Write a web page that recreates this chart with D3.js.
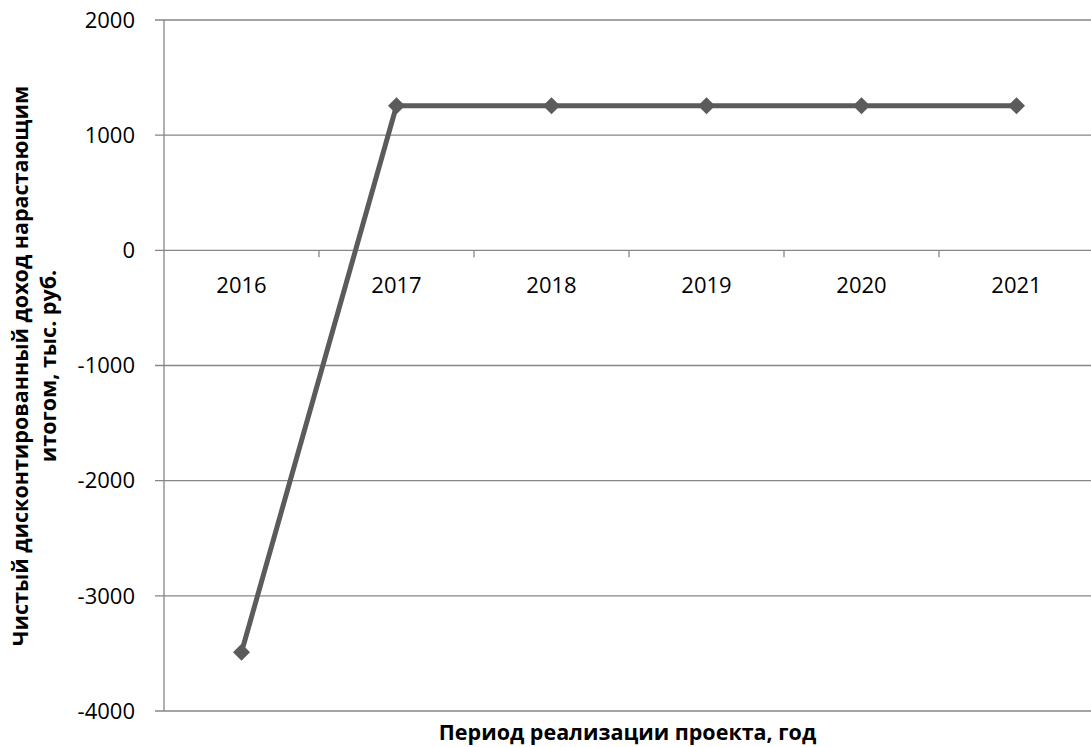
<!DOCTYPE html>
<html>
<head>
<meta charset="utf-8">
<script src="https://cdn.jsdelivr.net/npm/d3@7"></script>
<style>
  body { margin: 0; background: #fff; }
  svg { display: block; font-family: "Open Sans", "Noto Sans", sans-serif; }
</style>
</head>
<body>
<svg id="chart" width="1091" height="747"></svg>
<script>
const years = ["2016", "2017", "2018", "2019", "2020", "2021"];
const npvCumulative = [-3490, 1255, 1255, 1255, 1255, 1255];
const yTicks = [-4000, -3000, -2000, -1000, 0, 1000, 2000];

const yTitleLines = ["Чистый дисконтированный доход нарастающим", "итогом, тыс. руб."];
const xTitle = "Период реализации проекта, год";

const margin = { left: 164, top: 20, right: -3, bottom: 36 };
const W = 1091, H = 747;

const svg = d3.select("#chart");

const x = d3.scaleBand().domain(years).range([margin.left, W - margin.right]);
const y = d3.scaleLinear().domain([-4000, 2000]).range([H - margin.bottom, margin.top]);

const gridColor = "#868686";
const lineColor = "#5b5b5b";

// horizontal gridlines + left ticks
svg.append("g").selectAll("line").data(yTicks).join("line")
    .attr("x1", margin.left - 9).attr("x2", W)
    .attr("y1", d => y(d)).attr("y2", d => y(d))
    .attr("stroke", gridColor).attr("stroke-width", 1.3);

// y axis line
svg.append("line")
    .attr("x1", margin.left).attr("x2", margin.left)
    .attr("y1", y(2000)).attr("y2", y(-4000))
    .attr("stroke", gridColor).attr("stroke-width", 1.3);

// y tick labels
svg.append("g").selectAll("text").data(yTicks).join("text")
    .attr("x", margin.left - 29).attr("y", d => y(d)).attr("dy", "0.35em")
    .attr("text-anchor", "end").attr("font-size", 22).attr("fill", "#000")
    .text(d => d);

// category ticks on zero line
const boundaries = years.map(d => x(d)).concat([x(years[years.length - 1]) + x.bandwidth()]);
svg.append("g").selectAll("line").data(boundaries.slice(1)).join("line")
    .attr("x1", d => d).attr("x2", d => d)
    .attr("y1", y(0)).attr("y2", y(0) + 7)
    .attr("stroke", gridColor).attr("stroke-width", 1.3);

// category labels
svg.append("g").selectAll("text").data(years).join("text")
    .attr("x", d => x(d) + x.bandwidth() / 2).attr("y", y(0) + 43)
    .attr("text-anchor", "middle").attr("font-size", 22).attr("fill", "#000")
    .text(d => d);

// line
const pts = years.map((d, i) => [x(d) + x.bandwidth() / 2, y(npvCumulative[i])]);
svg.append("path")
    .attr("d", d3.line()(pts))
    .attr("fill", "none").attr("stroke", lineColor).attr("stroke-width", 5)
    .attr("stroke-linejoin", "round");

// diamond markers
svg.append("g").selectAll("path").data(pts).join("path")
    .attr("d", d3.symbol(d3.symbolDiamond2, 185)())
    .attr("transform", d => `translate(${d[0]},${d[1]})`)
    .attr("fill", lineColor);

// axis titles
svg.append("text")
    .attr("x", (margin.left + W) / 2).attr("y", 740)
    .attr("text-anchor", "middle").attr("font-size", 21.5).attr("font-weight", "bold")
    .text(xTitle);

const yt = svg.append("text")
    .attr("transform", `translate(0,366) rotate(-90)`)
    .attr("text-anchor", "middle").attr("font-size", 21.5).attr("font-weight", "bold");
yTitleLines.forEach((t, i) => yt.append("tspan").attr("x", 0).attr("y", i === 0 ? 28 : 56).text(t));
</script>
</body>
</html>
